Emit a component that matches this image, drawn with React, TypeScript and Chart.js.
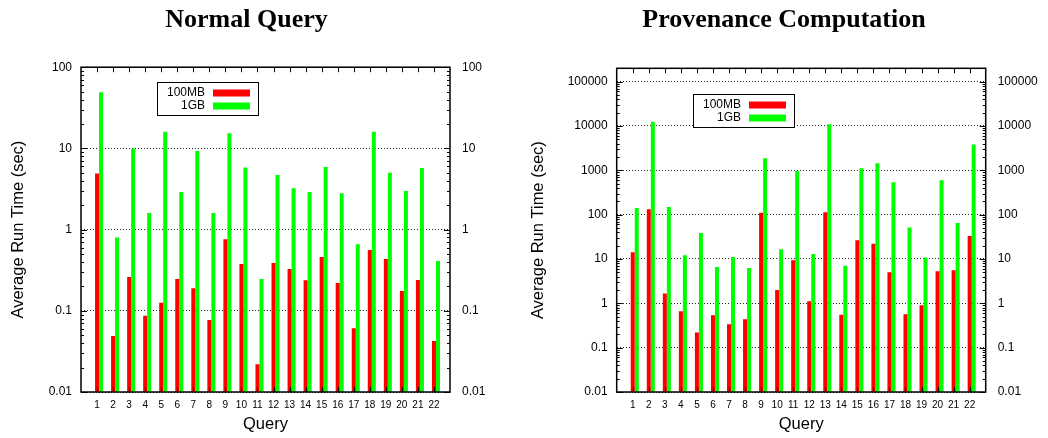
import React, { useEffect, useRef } from "react";
import { Chart, registerables } from "chart.js";

Chart.register(...registerables);

// ---------------- data ----------------
const QUERIES = ["1", "2", "3", "4", "5", "6", "7", "8", "9", "10", "11", "12", "13", "14", "15", "16", "17", "18", "19", "20", "21", "22"];
const SERIES_LABELS = ["100MB", "1GB"];

const NORMAL_100MB = [4.9, 0.049, 0.26, 0.087, 0.126, 0.246, 0.19, 0.077, 0.76, 0.376, 0.022, 0.387, 0.327, 0.237, 0.459, 0.22, 0.061, 0.56, 0.434, 0.175, 0.24, 0.0425];
const NORMAL_1GB = [49, 0.8, 10, 1.6, 16, 2.9, 9.3, 1.6, 15.4, 5.8, 0.246, 4.7, 3.24, 2.9, 5.9, 2.8, 0.66, 16, 5.0, 2.98, 5.75, 0.41];

const PROV_100MB = [14.2, 133, 1.66, 0.66, 0.22, 0.54, 0.337, 0.44, 110, 2.0, 9.4, 1.11, 114, 0.55, 26.5, 22, 5.0, 0.57, 0.91, 5.3, 5.6, 33];
const PROV_1GB = [142, 12400, 148, 12.2, 38.8, 6.6, 11.1, 6.3, 1880, 16.6, 960, 13, 11000, 7.0, 1120, 1450, 540, 51, 10.8, 600, 65, 3840];

const NORMAL_Y_TICKS = [0.01, 0.1, 1, 10, 100];
const PROV_Y_TICKS = [0.01, 0.1, 1, 10, 100, 1000, 10000, 100000];
const NORMAL_Y_RANGE = [0.01, 100];
const PROV_Y_RANGE = [0.01, 200000];

const TITLES = ["Normal Query", "Provenance Computation"];
const Y_TITLE = "Average Run Time (sec)";
const X_TITLE = "Query";

// ---------------- styles ----------------
const RED = "#ff0000";
const GREEN = "#00ff00";
const SANS = "'Liberation Sans', Arial, Helvetica, sans-serif";
const SERIF = "'Liberation Serif', 'Times New Roman', serif";
const GREEN_SHIFT = 0.25; // green bar sits right next to the red one

Chart.defaults.font.family = SANS;
Chart.defaults.color = "#000";

const framePlugin = {
  id: "gnuFrame",
  afterDatasetsDraw(chart: any, _args: any, opts: any) {
    const { ctx, chartArea: a } = chart;
    const x = chart.scales.x;
    const y = chart.scales.y;
    ctx.save();
    ctx.strokeStyle = "#000";
    ctx.lineWidth = 1;
    ctx.setLineDash([]);
    ctx.beginPath();
    const eLo = Math.floor(Math.log10(y.min) + 1e-9);
    const eHi = Math.ceil(Math.log10(y.max) - 1e-9);
    for (let e = eLo; e <= eHi; e++) {
      for (let k = 1; k <= 9; k++) {
        const v = k * Math.pow(10, e);
        if (v < y.min * 0.999 || v > y.max * 1.001) continue;
        const py = Math.round(y.getPixelForValue(v)) + 0.5;
        const len = k === 1 ? 6 : 3;
        ctx.moveTo(a.left, py);
        ctx.lineTo(a.left + len, py);
        ctx.moveTo(a.right - len, py);
        ctx.lineTo(a.right, py);
      }
    }
    for (const t of x.ticks) {
      const px = Math.round(x.getPixelForValue(t.value)) + 0.5;
      ctx.moveTo(px, a.top);
      ctx.lineTo(px, a.top + 5);
      ctx.moveTo(px, a.bottom);
      ctx.lineTo(px, a.bottom - 5);
    }
    ctx.stroke();
    ctx.lineWidth = 1.5;
    ctx.strokeRect(a.left, a.top, a.right - a.left, a.bottom - a.top);

    // key box
    const bx = Math.round(a.left + opts.dx);
    const by = Math.round(a.top + opts.dy);
    const bw = 101;
    const bh = 33;
    ctx.fillStyle = "#fff";
    ctx.fillRect(bx, by, bw, bh);
    ctx.lineWidth = 1;
    ctx.strokeRect(bx + 0.5, by + 0.5, bw, bh);
    ctx.font = `12px ${SANS}`;
    ctx.textAlign = "right";
    ctx.textBaseline = "middle";
    chart.data.datasets.forEach((ds: any, i: number) => {
      const cy = by + 11 + i * 13;
      ctx.fillStyle = "#000";
      ctx.fillText(ds.label, bx + 48, cy);
      ctx.fillStyle = ds.backgroundColor;
      ctx.fillRect(bx + 56, cy - 3.5, 37, 7);
    });
    ctx.restore();
  },
};

type Spec = {
  title: string;
  small: number[];
  large: number[];
  yTicks: number[];
  yRange: number[];
  width: number;
  left: number;
  yAxisW: number;
  y2AxisW: number;
  titleBottomPad: number;
  yTitlePad: number;
  legendDx: number;
  legendDy: number;
};

const SPECS: Spec[] = [
  {
    title: TITLES[0],
    small: NORMAL_100MB,
    large: NORMAL_1GB,
    yTicks: NORMAL_Y_TICKS,
    yRange: NORMAL_Y_RANGE,
    width: 493,
    left: 0,
    yAxisW: 81,
    y2AxisW: 43,
    titleBottomPad: 31.1,
    yTitlePad: 9,
    legendDx: 76,
    legendDy: 14.5,
  },
  {
    title: TITLES[1],
    small: PROV_100MB,
    large: PROV_1GB,
    yTicks: PROV_Y_TICKS,
    yRange: PROV_Y_RANGE,
    width: 520,
    left: 524,
    yAxisW: 92.7,
    y2AxisW: 58.3,
    titleBottomPad: 32.2,
    yTitlePad: 5,
    legendDx: 76,
    legendDy: 25.5,
  },
];

function fmtTick(v: number) {
  return String(v);
}

function Panel({ spec }: { spec: Spec }) {
  const ref = useRef<HTMLCanvasElement | null>(null);

  useEffect(() => {
    if (!ref.current) return;
    const setTicks = (s: any) => {
      s.ticks = spec.yTicks.map((v) => ({ value: v }));
    };
    const config: any = {
      type: "bar",
      data: {
        datasets: [
          {
            label: SERIES_LABELS[0],
            data: QUERIES.map((_, i) => ({ x: i + 1, y: spec.small[i] })),
            backgroundColor: RED,
            borderWidth: 0,
            xAxisID: "x",
            yAxisID: "y",
            grouped: false,
            categoryPercentage: 0.25,
            barPercentage: 1,
          },
          {
            label: SERIES_LABELS[1],
            data: QUERIES.map((_, i) => ({ x: i + 1, y: spec.large[i] })),
            backgroundColor: GREEN,
            borderWidth: 0,
            xAxisID: "x2",
            yAxisID: "y",
            grouped: false,
            categoryPercentage: 0.25,
            barPercentage: 1,
          },
        ],
      },
      options: {
        animation: false,
        responsive: false,
        maintainAspectRatio: false,
        layout: { padding: 0 },
        plugins: {
          legend: { display: false },
          tooltip: { enabled: false },
          title: {
            display: true,
            text: spec.title,
            color: "#000",
            font: { family: SERIF, size: 26, weight: "bold" },
            padding: { top: 4.9, bottom: spec.titleBottomPad },
          },
          gnuFrame: { dx: spec.legendDx, dy: spec.legendDy },
        },
        scales: {
          x: {
            type: "linear",
            position: "bottom",
            offset: false,
            min: 0,
            max: QUERIES.length + 1,
            afterBuildTicks: (s: any) => {
              s.ticks = QUERIES.map((_, i) => ({ value: i + 1 }));
            },
            afterFit: (s: any) => {
              s.height = 46;
            },
            ticks: {
              autoSkip: false,
              maxRotation: 0,
              padding: 7,
              color: "#000",
              font: { family: SANS, size: 10 },
              callback: (v: number) => QUERIES[Math.round(v) - 1],
            },
            grid: { display: false, drawTicks: false, offset: false },
            border: { display: false },
            title: {
              display: true,
              text: X_TITLE,
              color: "#000",
              font: { family: SANS, size: 16.5 },
              padding: { top: 0, bottom: 3.6 },
            },
          },
          x2: {
            type: "linear",
            position: "bottom",
            display: true,
            offset: false,
            min: -GREEN_SHIFT,
            max: QUERIES.length + 1 - GREEN_SHIFT,
            afterFit: (s: any) => {
              s.height = 0;
            },
            ticks: { display: false },
            grid: { display: false, drawTicks: false, offset: false },
            border: { display: false },
            title: { display: false },
          },
          y: {
            type: "logarithmic",
            position: "left",
            min: spec.yRange[0],
            max: spec.yRange[1],
            afterBuildTicks: setTicks,
            afterFit: (s: any) => {
              s.width = spec.yAxisW;
            },
            ticks: {
              autoSkip: false,
              padding: 9,
              color: "#000",
              font: { family: SANS, size: 12 },
              callback: (v: number) => fmtTick(v),
            },
            grid: {
              drawTicks: false,
              color: "#222",
              lineWidth: 1,
              borderDash: [1, 2],
            },
            border: { display: false, dash: [1, 2] },
            title: {
              display: true,
              text: Y_TITLE,
              color: "#000",
              font: { family: SANS, size: 16.5 },
              padding: { top: spec.yTitlePad, bottom: 0 },
            },
          },
          y2: {
            type: "logarithmic",
            position: "right",
            min: spec.yRange[0],
            max: spec.yRange[1],
            afterBuildTicks: setTicks,
            afterFit: (s: any) => {
              s.width = spec.y2AxisW;
            },
            ticks: {
              autoSkip: false,
              padding: 12,
              color: "#000",
              font: { family: SANS, size: 12 },
              callback: (v: number) => fmtTick(v),
            },
            grid: { display: false, drawTicks: false },
            border: { display: false },
          },
        },
      },
      plugins: [framePlugin],
    };
    const chart = new Chart(ref.current, config);
    return () => chart.destroy();
  }, [spec]);

  return (
    <canvas
      ref={ref}
      width={spec.width}
      height={438}
      style={{ position: "absolute", left: spec.left, top: 0, width: spec.width, height: 438, display: "block" }}
    />
  );
}

export default function App() {
  return (
    <div style={{ position: "absolute", left: 0, top: 0, width: 1048, height: 438, background: "#fff", overflow: "hidden" }}>
      {SPECS.map((s) => (
        <Panel key={s.title} spec={s} />
      ))}
    </div>
  );
}
